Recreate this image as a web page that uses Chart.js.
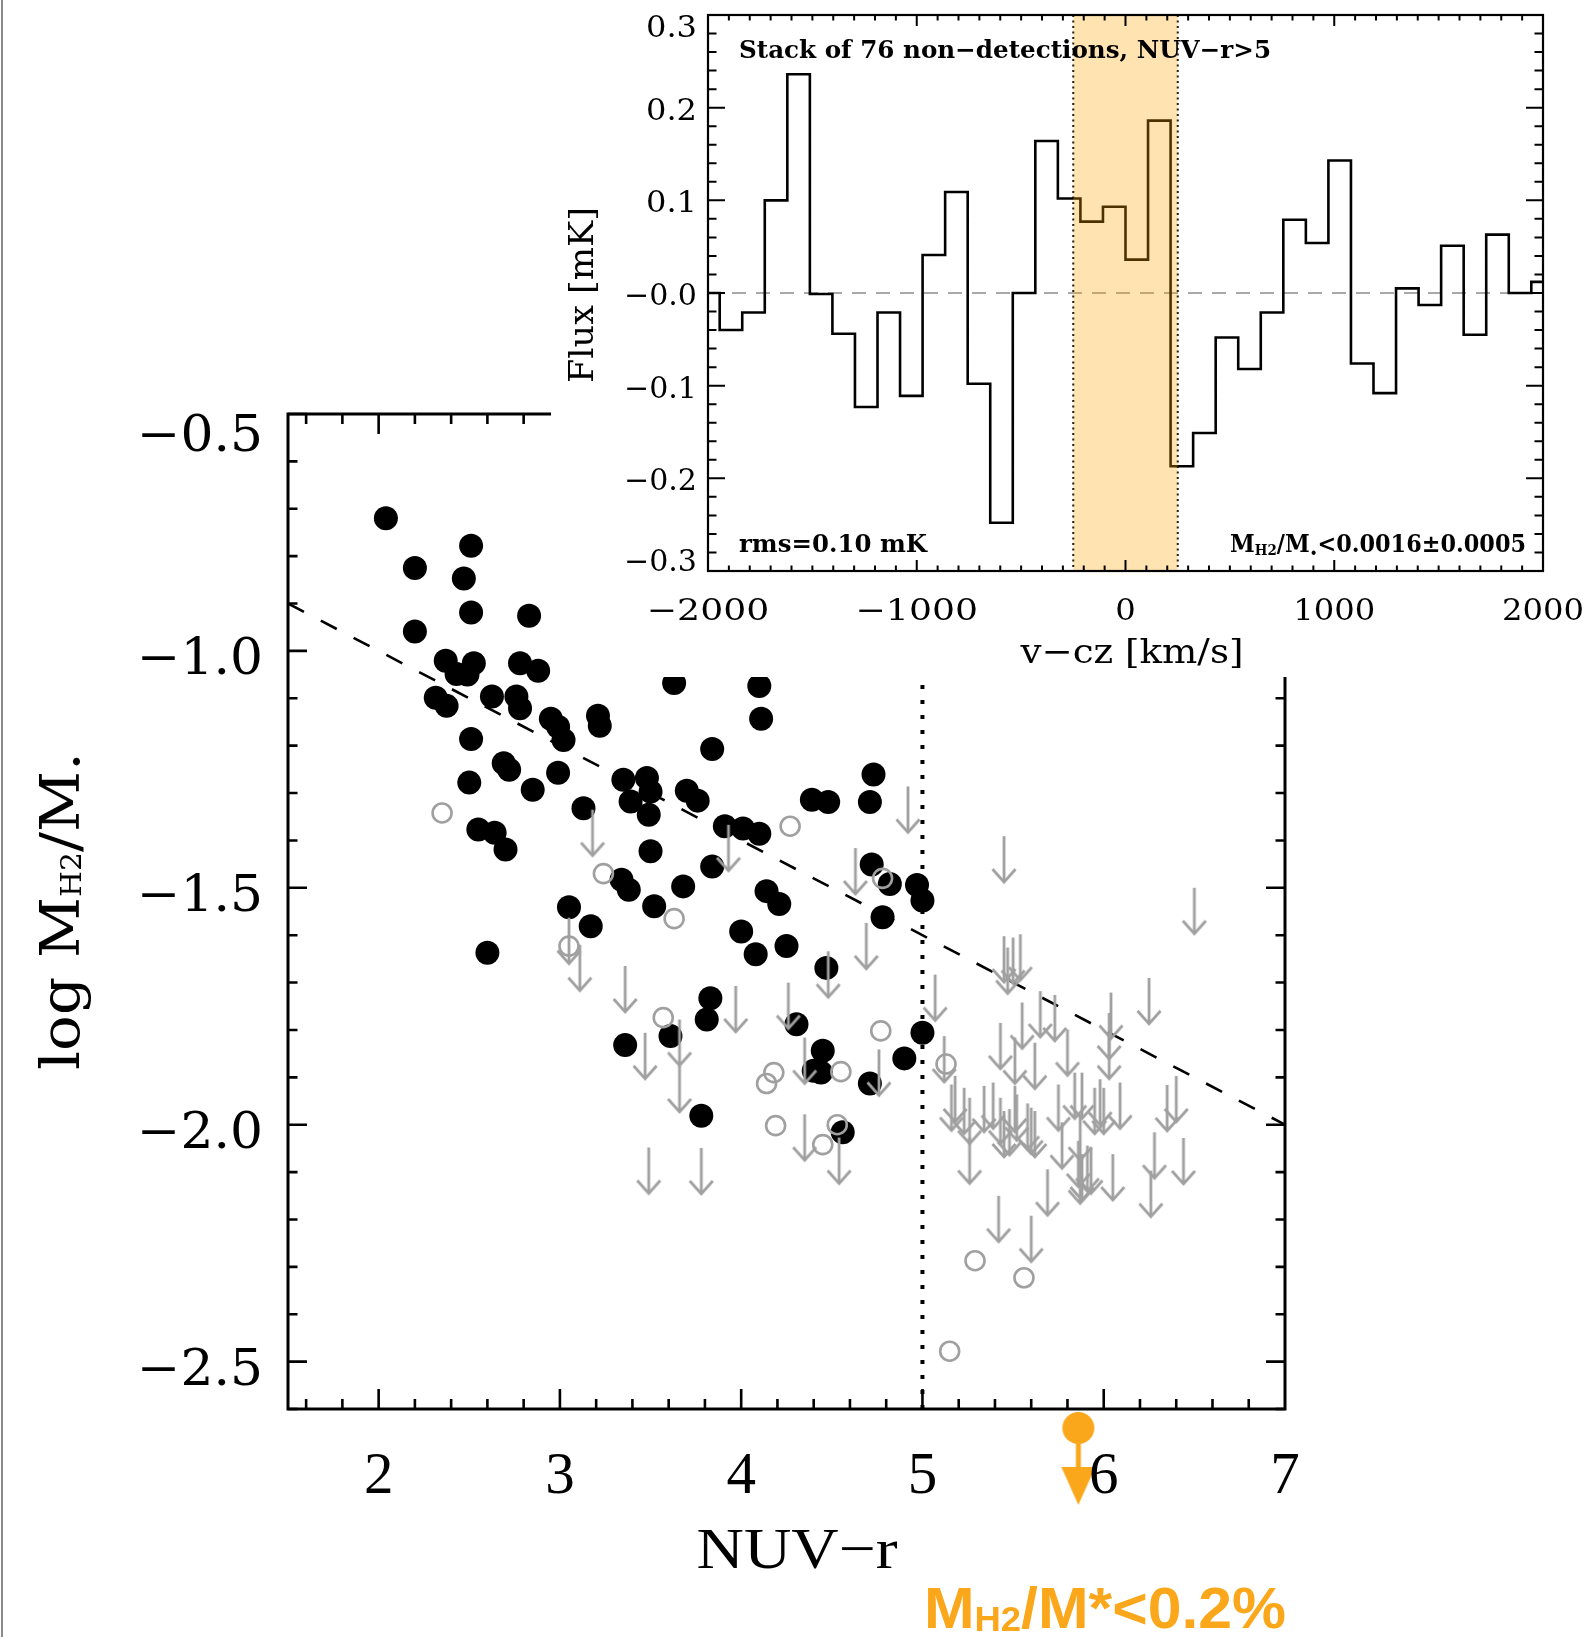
<!DOCTYPE html>
<html>
<head>
<meta charset="utf-8">
<script src="https://cdn.jsdelivr.net/npm/chart.js@4.4.1/dist/chart.umd.min.js"></script>
<style>
  html, body { margin: 0; padding: 0; background: #fff; overflow: hidden; }
  #wrap { position: relative; width: 1588px; height: 1637px; }
  #main { position: absolute; left: 0; top: 0; }
  #insetBox { position: absolute; left: 551px; top: 0; width: 1037px; height: 677px; background: #fff; }
</style>
</head>
<body>
<div id="wrap">
  <canvas id="main" width="1588" height="1637"></canvas>
  <div id="insetBox"><canvas id="inset" width="1037" height="677"></canvas></div>
</div>
<script>
// ---- main panel: detections (black), tentative (grey circles), upper limits (grey arrows)
const detX = [2.04, 2.20, 2.51, 2.47, 2.51, 2.83, 2.20, 2.37, 2.43, 2.525, 2.49, 2.78, 2.88, 2.315, 2.375, 2.625, 2.76, 2.78, 2.95, 2.99,
  3.02, 3.21, 3.22, 2.51, 2.69, 2.72, 2.99, 2.50, 2.85, 3.13, 3.35, 3.48, 3.50, 3.39, 3.49, 3.70, 3.76, 3.63, 4.10, 4.11,
  3.84, 2.55, 2.64, 2.70, 3.34, 3.38, 3.50, 3.52, 3.68, 3.84, 3.91, 4.01, 4.10, 4.14, 4.21, 3.05, 3.17, 4.00, 4.25, 4.08,
  2.60, 4.73, 4.39, 4.48, 4.71, 4.72, 4.82, 4.97, 5.00, 4.78, 4.47, 4.305, 5.00, 4.45, 4.40, 4.44, 4.71, 4.90, 4.56,
  3.36, 3.61, 3.83, 3.81, 3.78];
const detY = [-0.72, -0.825, -0.778, -0.847, -0.919, -0.926, -0.959, -1.021, -1.049, -1.026, -1.05, -1.026, -1.042, -1.099, -1.116, -1.096, -1.096, -1.121, -1.143, -1.16,
  -1.188, -1.137, -1.158, -1.186, -1.237, -1.251, -1.257, -1.278, -1.293, -1.332, -1.272, -1.268, -1.297, -1.318, -1.346, -1.295, -1.316, -1.068, -1.074, -1.143,
  -1.207, -1.377, -1.384, -1.419, -1.483, -1.504, -1.423, -1.539, -1.497, -1.455, -1.37, -1.375, -1.386, -1.507, -1.534, -1.541, -1.581, -1.592, -1.623, -1.64,
  -1.637, -1.261, -1.314, -1.319, -1.319, -1.451, -1.492, -1.494, -1.527, -1.562, -1.669, -1.788, -1.806, -1.844, -1.886, -1.89, -1.913, -1.86, -2.016,
  -1.832, -1.813, -1.733, -1.778, -1.981];

const tentX = [2.35, 3.24, 3.63, 4.27, 3.05, 4.78, 4.77, 4.55, 4.53, 4.45, 5.13, 5.29, 5.56, 5.15, 3.57, 4.18, 4.14, 4.19];
const tentY = [-1.342, -1.470, -1.565, -1.370, -1.623, -1.480, -1.802, -1.888, -2.000, -2.042, -1.872, -2.287, -2.323, -2.478, -1.774, -1.890, -1.913, -2.002];

const limX = [3.18, 3.93, 3.05, 4.92, 4.63, 4.69, 4.48, 4.26, 5.45, 6.50, 5.45, 5.50, 5.54, 5.47, 5.07, 6.25, 5.65, 5.73, 6.04,
  4.35, 4.54, 4.35, 4.76, 5.12, 5.16, 5.18, 5.23, 5.26, 5.26, 5.34, 5.39, 5.43, 5.45, 5.48, 5.51, 5.52, 5.58, 5.60, 5.62,
  5.62, 5.51, 5.55, 5.43, 5.80, 5.75, 5.77, 5.84, 5.88, 5.87, 5.86, 5.88, 5.91, 5.93, 5.95, 5.98, 6.00, 6.03, 6.03, 6.05,
  6.09, 6.28, 6.26, 6.35, 6.40, 6.44, 5.69, 5.87, 5.42, 5.60, 3.11, 3.36, 3.47, 3.66, 3.66, 3.97, 3.49, 3.78];
const limY = [-1.335, -1.367, -1.563, -1.286, -1.416, -1.574, -1.634, -1.700, -1.391, -1.500, -1.602, -1.605, -1.598, -1.626, -1.683, -1.690, -1.718, -1.726, -1.721,
  -1.816, -2.027, -1.978, -1.841, -1.813, -1.915, -1.897, -1.922, -1.943, -2.027, -1.918, -1.911, -1.943, -1.971, -1.967, -1.918, -1.936, -1.955, -1.964, -1.971,
  -1.827, -1.816, -1.742, -1.785, -1.799, -1.915, -1.995, -1.890, -1.890, -1.978, -2.034, -2.062, -2.044, -2.048, -1.922, -1.904, -1.922, -1.764, -1.806, -2.062,
  -1.911, -2.016, -2.097, -1.916, -1.897, -2.028, -2.094, -2.069, -2.150, -2.192, -1.620, -1.665, -1.806, -1.778, -1.876, -1.707, -2.048, -2.049];

// stacked upper limit (orange) and guide lines
const stackX = [5.86];
const stackY = [-2.64];
const fitX = [1.5, 7.0];
const fitY = [-0.9, -2.0];
const cutX = [5.0, 5.0];
const cutY = [-2.6, -0.5];

const mainXTicks = [2, 3, 4, 5, 6, 7];
const mainXLabels = ['2', '3', '4', '5', '6', '7'];
const mainYTicks = [-0.5, -1.0, -1.5, -2.0, -2.5];
const mainYLabels = ['\u22120.5', '\u22121.0', '\u22121.5', '\u22122.0', '\u22122.5'];

// ---- inset: stacked spectrum
const velocity = [-1998, -1890, -1782, -1674, -1566, -1458, -1350, -1242, -1134, -1026, -918, -810, -702, -594, -486, -378, -270, -162, -54,
  54, 162, 270, 378, 486, 594, 702, 810, 918, 1026, 1134, 1242, 1350, 1458, 1566, 1674, 1782, 1890, 1998];
const flux = [0.0, -0.040, -0.021, 0.100, 0.236, -0.001, -0.044, -0.123, -0.021, -0.111, 0.041, 0.109, -0.098, -0.248, 0.0, 0.164, 0.102, 0.077, 0.093,
  0.036, 0.186, -0.187, -0.151, -0.048, -0.082, -0.021, 0.079, 0.054, 0.143, -0.076, -0.108, 0.005, -0.013, 0.051, -0.045, 0.063, 0.0, 0.012];
const lineWindow = [-250, 250];

const insetXTicks = [-2000, -1000, 0, 1000, 2000];
const insetXLabels = ['\u22122000', '\u22121000', '0', '1000', '2000'];
const insetYTicks = [0.3, 0.2, 0.1, 0, -0.1, -0.2, -0.3];
const insetYLabels = ['0.3', '0.2', '0.1', '\u22120.0', '\u22120.1', '\u22120.2', '\u22120.3'];

const GREY = '#a0a0a0';
const ORANGE = '#fba71b';
const SERIF = '"DejaVu Serif", serif';
const TIMES = '"Liberation Serif", serif';

function pts(xs, ys) { return xs.map((x, i) => ({ x, y: ys[i] })); }

// text made of pieces [text, sizeFactor, dyInEm], squeezed to a width
function richText(ctx, parts, x, y, o) {
  const weight = o.weight || 'normal';
  ctx.save();
  ctx.fillStyle = o.color || '#000';
  ctx.textBaseline = 'alphabetic';
  ctx.textAlign = 'left';
  let total = 0;
  const ws = parts.map(p => {
    ctx.font = `${weight} ${o.size * p[1]}px ${o.family}`;
    const w = ctx.measureText(p[0]).width;
    total += w;
    return w;
  });
  ctx.translate(x, y);
  if (o.rotate) ctx.rotate(o.rotate);
  if (o.width) ctx.scale(o.width / total, 1);
  let cx = o.align === 'center' ? -total / 2 : (o.align === 'right' ? -total : 0);
  parts.forEach((p, i) => {
    ctx.font = `${weight} ${o.size * p[1]}px ${o.family}`;
    ctx.fillText(p[0], cx, (p[2] || 0) * o.size);
    cx += ws[i];
  });
  ctx.restore();
}

// marker images
function makeArrow() {
  const c = document.createElement('canvas');
  c.width = 32; c.height = 104;
  const g = c.getContext('2d');
  g.strokeStyle = GREY; g.lineWidth = 2.8; g.lineJoin = 'miter';
  g.beginPath(); g.moveTo(16, 52); g.lineTo(16, 98); g.stroke();
  g.beginPath(); g.moveTo(4.5, 85); g.lineTo(16, 98); g.lineTo(27.5, 85); g.stroke();
  return c;
}
function makeStackMarker() {
  const c = document.createElement('canvas');
  c.width = 40; c.height = 160;
  const g = c.getContext('2d');
  g.fillStyle = ORANGE;
  g.beginPath(); g.arc(20, 80, 16, 0, Math.PI * 2); g.fill();
  g.fillRect(17.5, 80, 5, 41);
  g.beginPath(); g.moveTo(3, 119); g.lineTo(37, 119); g.lineTo(20, 157); g.closePath(); g.fill();
  return c;
}

function ticksBox(ctx, a, xs, ys, o) {
  ctx.save();
  ctx.strokeStyle = '#000';
  ctx.lineWidth = o.frame;
  ctx.strokeRect(a.left, a.top, a.right - a.left, a.bottom - a.top);
  ctx.lineWidth = o.tick;
  ctx.beginPath();
  xs.forEach(t => {
    const px = t.px, L = t.major ? o.xMaj : o.xMaj / 2;
    ctx.moveTo(px, a.bottom); ctx.lineTo(px, a.bottom - L);
    ctx.moveTo(px, a.top); ctx.lineTo(px, a.top + L);
  });
  ys.forEach(t => {
    const py = t.py, L = t.major ? o.yMaj : o.yMaj / 2;
    ctx.moveTo(a.left, py); ctx.lineTo(a.left + L, py);
    ctx.moveTo(a.right, py); ctx.lineTo(a.right - L, py);
  });
  ctx.stroke();
  ctx.restore();
}

const mainDecor = {
  id: 'mainDecor',
  beforeDatasetsDraw(chart) {
    const { ctx, chartArea: a, scales: { x, y } } = chart;
    const xs = [], ys = [];
    for (let i = 8; i <= 34; i++) xs.push({ px: x.getPixelForValue(i / 5), major: i % 5 === 0 });
    for (let k = 0; k <= 21; k++) ys.push({ py: y.getPixelForValue(-0.5 - k / 10), major: k % 5 === 0 });
    ticksBox(ctx, a, xs, ys, { frame: 3, tick: 2.6, xMaj: 20, yMaj: 19 });
  },
  afterDraw(chart) {
    const { ctx, chartArea: a, scales: { x, y } } = chart;
    ctx.save();
    // thin grey frame line at the very left of the figure
    ctx.strokeStyle = '#8a8a8a'; ctx.lineWidth = 2;
    ctx.beginPath(); ctx.moveTo(2, 0); ctx.lineTo(2, 1637); ctx.stroke();

    ctx.fillStyle = '#000';
    ctx.textBaseline = 'alphabetic';
    ctx.textAlign = 'center';
    ctx.font = `59px ${TIMES}`;
    mainXTicks.forEach((v, i) => ctx.fillText(mainXLabels[i], x.getPixelForValue(v), 1493));
    ctx.restore();
    mainYTicks.forEach((v, i) => {
      const py = y.getPixelForValue(v);
      const off = v === y.max ? 37 : 23;
      richText(ctx, [[mainYLabels[i], 1, 0]], 263, py + off, { size: 50, family: SERIF, width: 126, align: 'right' });
    });

    richText(ctx, [['NUV\u2212r', 1, 0]], 797, 1568, { size: 58, family: TIMES, width: 201, align: 'center' });
    richText(ctx, [['log M', 1, 0], ['H2', 0.5, 0.04], ['/M', 1, 0], ['.', 1, 0]], 79, 911,
      { size: 55, family: SERIF, width: 318, align: 'center', rotate: -Math.PI / 2 });
    richText(ctx, [['M', 1, 0], ['H2', 0.6, 0.06], ['/M*<0.2%', 1, 0]], 924, 1628,
      { size: 57, family: '"Liberation Sans", Arial, sans-serif', weight: 'bold', width: 362, color: ORANGE });
  }
};

new Chart(document.getElementById('main'), {
  type: 'scatter',
  data: {
    datasets: [
      { data: pts(limX, limY), pointStyle: makeArrow(), pointRadius: 3 },
      { data: pts(tentX, tentY), pointStyle: 'circle', pointRadius: 9.5, pointBorderWidth: 2.6,
        pointBorderColor: GREY, pointBackgroundColor: 'rgba(0,0,0,0)' },
      { data: pts(detX, detY), pointStyle: 'circle', pointRadius: 12, pointBorderWidth: 0,
        pointBackgroundColor: '#000' },
      { data: pts(fitX, fitY), showLine: true, pointRadius: 0, borderColor: '#000', borderWidth: 2.6,
        borderDash: [18, 19] },
      { data: pts(cutX, cutY), showLine: true, pointRadius: 0, borderColor: '#000', borderWidth: 4,
        borderDash: [4, 11], borderCapStyle: 'butt' },
      { data: pts(stackX, stackY), pointStyle: makeStackMarker(), pointRadius: 30, clip: false }
    ]
  },
  options: {
    responsive: false,
    animation: false,
    devicePixelRatio: 1,
    events: [],
    layout: { padding: { left: 288, right: 303, top: 414, bottom: 228 } },
    plugins: { legend: { display: false }, tooltip: { enabled: false } },
    scales: {
      x: { type: 'linear', min: 1.5, max: 7, display: false },
      y: { type: 'linear', min: -2.6, max: -0.5, display: false }
    }
  },
  plugins: [mainDecor]
});

const insetDecor = {
  id: 'insetDecor',
  beforeDatasetsDraw(chart) {
    const { ctx, chartArea: a, scales: { x, y } } = chart;
    ctx.save();
    ctx.strokeStyle = '#8c8c8c'; ctx.lineWidth = 1.6; ctx.setLineDash([14, 10]);
    const y0 = y.getPixelForValue(0);
    ctx.beginPath(); ctx.moveTo(a.left, y0); ctx.lineTo(a.right, y0); ctx.stroke();
    ctx.strokeStyle = '#000'; ctx.lineWidth = 2; ctx.setLineDash([2, 3.5]);
    lineWindow.forEach(v => {
      const px = x.getPixelForValue(v);
      ctx.beginPath(); ctx.moveTo(px, a.top); ctx.lineTo(px, a.bottom); ctx.stroke();
    });
    ctx.restore();
  },
  afterDatasetsDraw(chart) {
    const { ctx, chartArea: a, scales: { x, y } } = chart;
    const l = x.getPixelForValue(lineWindow[0]), r = x.getPixelForValue(lineWindow[1]);
    ctx.save();
    ctx.fillStyle = 'rgba(255,165,0,0.3)';
    ctx.fillRect(l, a.top, r - l, a.bottom - a.top);
    ctx.restore();
    const xs = [], ys = [];
    for (let i = -20; i <= 20; i++) xs.push({ px: x.getPixelForValue(i * 100), major: i % 10 === 0 });
    for (let k = -15; k <= 15; k++) ys.push({ py: y.getPixelForValue(k / 50), major: k % 5 === 0 });
    ticksBox(ctx, a, xs, ys, { frame: 2.2, tick: 2, xMaj: 11, yMaj: 17 });
  },
  afterDraw(chart) {
    const { ctx, chartArea: a, scales: { x, y } } = chart;
    insetXTicks.forEach((v, i) => {
      richText(ctx, [[insetXLabels[i], 1, 0]], x.getPixelForValue(v), 620,
        { size: 30, family: SERIF, width: insetXLabels[i].length * 20.5 + (i < 2 ? 20 : 0), align: 'center' });
    });
    insetYTicks.forEach((v, i) => {
      const py = y.getPixelForValue(v);
      const off = v === y.max ? 22 : (v === y.min ? 0 : 12);
      richText(ctx, [[insetYLabels[i], 1, 0]], 146, py + off,
        { size: 30, family: SERIF, width: insetYLabels[i].length > 3 ? 73 : 51, align: 'right' });
    });

    richText(ctx, [['Stack of 76 non\u2212detections, NUV\u2212r>5', 1, 0]], 188, 58,
      { size: 25, family: SERIF, weight: 'bold', width: 532 });
    richText(ctx, [['rms=0.10 mK', 1, 0]], 188, 552, { size: 25, family: SERIF, weight: 'bold', width: 188 });
    richText(ctx, [['M', 1, 0], ['H2', 0.6, 0.12], ['/M', 1, 0], ['.', 1, 0.1], ['<0.0016\u00b10.0005', 1, 0]], 679, 552,
      { size: 25, family: SERIF, weight: 'bold', width: 296 });
    richText(ctx, [['Flux [mK]', 1, 0]], 42, 295, { size: 34, family: SERIF, width: 176, align: 'center', rotate: -Math.PI / 2 });
    richText(ctx, [['v\u2212cz [km/s]', 1, 0]], 581, 663, { size: 34, family: SERIF, width: 223, align: 'center' });
  }
};

new Chart(document.getElementById('inset'), {
  type: 'line',
  data: {
    datasets: [
      { data: pts(velocity, flux), stepped: 'middle', borderColor: '#000', borderWidth: 2.6, pointRadius: 0, fill: false }
    ]
  },
  options: {
    responsive: false,
    animation: false,
    devicePixelRatio: 1,
    events: [],
    layout: { padding: { left: 157, right: 45, top: 15, bottom: 106 } },
    plugins: { legend: { display: false }, tooltip: { enabled: false } },
    scales: {
      x: { type: 'linear', min: -2000, max: 2000, display: false },
      y: { type: 'linear', min: -0.3, max: 0.3, display: false }
    }
  },
  plugins: [insetDecor]
});
</script>
</body>
</html>
